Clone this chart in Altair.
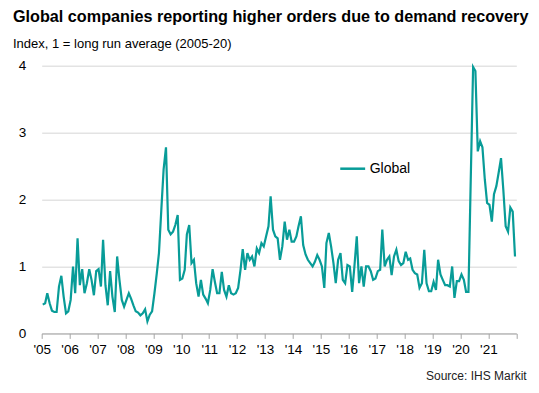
import altair as alt
import pandas as pd

# Monthly index values, Jan 2005 - Dec 2021
values_2005 = [0.43, 0.45, 0.60, 0.45, 0.34, 0.32, 0.32, 0.70, 0.86, 0.55, 0.30, 0.33]
values_2006 = [0.50, 1.00, 0.60, 1.42, 0.72, 0.96, 0.60, 0.75, 0.96, 0.80, 0.57, 0.93]
values_2007 = [0.96, 0.70, 1.40, 0.72, 0.42, 0.93, 0.55, 0.32, 1.15, 0.80, 0.50, 0.40]
values_2008 = [0.50, 0.60, 0.52, 0.42, 0.33, 0.31, 0.27, 0.30, 0.36, 0.18, 0.28, 0.33]
values_2009 = [0.60, 0.90, 1.20, 1.85, 2.45, 2.78, 1.55, 1.48, 1.52, 1.62, 1.77, 0.80]
values_2010 = [0.82, 0.95, 1.48, 1.62, 1.05, 1.10, 0.75, 0.55, 0.80, 0.58, 0.52, 0.45]
values_2011 = [0.65, 0.96, 0.78, 0.60, 0.60, 0.92, 0.65, 0.55, 0.72, 0.60, 0.58, 0.60]
values_2012 = [0.68, 0.95, 1.26, 0.95, 1.20, 1.10, 1.15, 1.00, 1.27, 1.20, 1.35, 1.30]
values_2013 = [1.45, 1.60, 2.05, 1.55, 1.45, 1.42, 1.10, 1.30, 1.67, 1.40, 1.55, 1.37]
values_2014 = [1.37, 1.45, 1.60, 1.75, 1.32, 1.18, 1.10, 1.05, 1.00, 1.07, 1.17, 1.10]
values_2015 = [1.00, 0.68, 1.35, 1.50, 1.30, 1.05, 0.75, 1.10, 1.20, 0.80, 0.75, 1.02]
values_2016 = [1.00, 0.62, 1.00, 1.45, 0.75, 1.00, 0.70, 1.00, 1.00, 0.93, 0.80, 0.82]
values_2017 = [0.93, 0.95, 1.55, 1.00, 1.10, 1.15, 0.87, 1.15, 1.25, 1.08, 1.02, 1.05]
values_2018 = [1.22, 1.10, 1.12, 0.95, 0.90, 0.88, 0.68, 0.75, 1.25, 0.75, 0.63, 0.63]
values_2019 = [0.77, 0.65, 1.10, 0.88, 0.80, 0.72, 0.72, 0.70, 1.00, 0.53, 0.78, 0.78]
values_2020 = [0.88, 0.80, 0.62, 0.62, 2.30, 3.98, 3.92, 2.72, 2.87, 2.78, 2.30, 1.95]
values_2021 = [1.92, 1.67, 2.08, 2.20, 2.40, 2.62, 2.15, 1.60, 1.52, 1.88, 1.82, 1.15]

values = (values_2005 + values_2006 + values_2007 + values_2008 + values_2009 +
          values_2010 + values_2011 + values_2012 + values_2013 + values_2014 +
          values_2015 + values_2016 + values_2017 + values_2018 + values_2019 +
          values_2020 + values_2021)

months = [d.strftime("%Y-%m-15") for d in pd.date_range("2005-01-01", periods=len(values), freq="MS")]
years = list(range(2005, 2023))
series_name = "Global"

df = pd.DataFrame({"date": months, "value": values, "series": series_name})

FONT = "Liberation Sans"
TEAL = "#089c98"

line = alt.Chart(df).mark_line(strokeWidth=2.2, interpolate="linear").encode(
    x=alt.X(
        "date:T",
        scale=alt.Scale(
            type="utc",
            domain=[alt.DateTime(year=2005, month=1, date=1, utc=True),
                    alt.DateTime(year=2022, month=1, date=1, utc=True)],
        ),
        axis=alt.Axis(
            values=[alt.DateTime(year=y, month=1, date=1, utc=True) for y in years],
            labelExpr="utcyear(datum.value) > 2021 ? '' : \"'\" + utcFormat(datum.value, '%y')",
            title=None,
            grid=False,
            domainColor="#a6a6a6",
            domainWidth=1,
            tickColor="#a6a6a6",
            tickSize=5,
            labelFontSize=13.5,
            labelColor="#000000",
            labelFont=FONT,
            labelPadding=4,
            labelFlush=False,
            labelOverlap=False,
        ),
    ),
    y=alt.Y(
        "value:Q",
        scale=alt.Scale(domain=[0, 4], nice=False),
        axis=alt.Axis(
            values=[0, 1, 2, 3, 4],
            title=None,
            domain=False,
            ticks=False,
            grid=True,
            gridColor="#e3e3e3",
            gridWidth=1.5,
            labelFontSize=13.5,
            labelColor="#000000",
            labelFont=FONT,
            labelPadding=16,
        ),
    ),
    color=alt.Color(
        "series:N",
        scale=alt.Scale(domain=[series_name], range=[TEAL]),
        legend=alt.Legend(
            title=None,
            orient="none",
            legendX=297,
            legendY=89,
            symbolType="stroke",
            symbolSize=620,
            symbolStrokeWidth=2.5,
            labelFontSize=14,
            labelFont=FONT,
            labelColor="#000000",
            labelOffset=3,
        ),
    ),
)

source = alt.Chart(pd.DataFrame({"t": ["Source: IHS Markit"]})).mark_text(
    align="right", baseline="alphabetic", fontSize=12, font=FONT, color="#222222"
).encode(text="t:N", x=alt.value(485), y=alt.value(314))

chart = alt.layer(line, source).properties(
    width=474.6,
    height=267.7,
    autosize=alt.AutoSizeParams(type="none"),
    padding={"left": 33.7, "top": 57.7, "right": 14.7, "bottom": 51.6},
    title=alt.TitleParams(
        text="Global companies reporting higher orders due to demand recovery",
        subtitle="Index, 1 = long run average (2005-20)",
        anchor="start",
        frame="group",
        dx=-28.7,
        offset=8,
        font=FONT,
        fontSize=16.2,
        fontWeight="bold",
        color="#000000",
        subtitleFont=FONT,
        subtitleFontSize=13,
        subtitleColor="#000000",
        subtitlePadding=12,
    ),
).configure_view(stroke=None)

chart.save("out.html", embed_options={"renderer": "svg", "actions": False})
